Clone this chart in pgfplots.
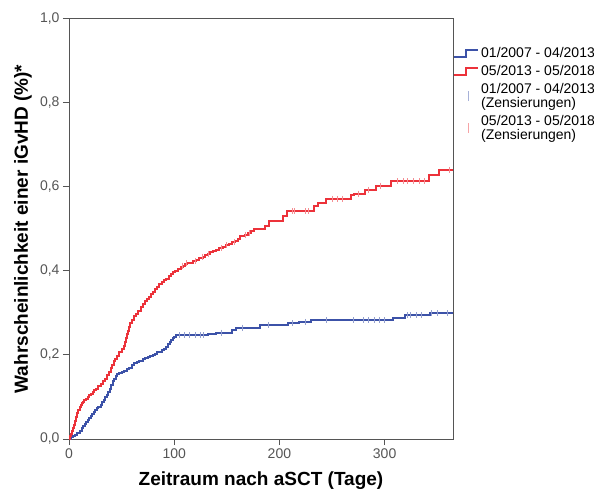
\documentclass[border=0pt]{standalone}
\usepackage{pgfplots}
\pgfplotsset{compat=1.18}
\usepackage{fontspec}
\setmainfont{Liberation Sans}

\definecolor{kmblue}{RGB}{60,82,168}
\definecolor{kmred}{RGB}{236,50,58}
\definecolor{axisgray}{RGB}{85,85,85}

% legend symbols: step line and censoring tick
\pgfplotsset{
  steplegend/.style={legend image code/.code={%
    \draw[#1, line width=2bp] (0bp,-3.5bp) -- (12bp,-3.5bp) -- (12bp,3.5bp) -- (24bp,3.5bp);}},
  censlegend/.style={legend image code/.code={%
    \draw[#1, line width=1.2bp] (14bp,-5bp) -- (14bp,5bp);}},
}

% Kaplan-Meier type step curves (days, cumulative probability)
\pgfplotstableread{
day  p
0    0
2    0.004
4    0.007
6    0.010
8    0.014
10   0.019
12   0.025
13   0.030
15   0.035
16   0.040
18   0.045
19   0.050
21   0.055
22   0.060
24   0.065
25   0.069
27   0.073
28   0.077
30   0.081
31   0.087
33   0.093
34   0.099
36   0.105
37   0.112
39   0.120
40   0.129
42   0.138
43   0.144
45   0.150
46   0.154
48   0.157
50   0.160
52   0.162
55   0.166
57   0.170
60   0.176
62   0.180
65   0.183
67   0.186
70   0.190
72   0.193
75   0.196
77   0.198
80   0.201
82   0.203
84   0.206
86   0.208
88   0.212
90   0.215
92   0.220
94   0.225
96   0.230
97   0.235
99   0.240
100  0.243
102  0.247
132  0.251
140  0.253
155  0.259
159  0.265
182  0.271
208  0.275
219  0.279
230  0.283
308  0.289
319  0.295
343  0.299
365  0.299
}\earlytab

\pgfplotstableread{
day  p
0    0
1    0.006
2    0.012
3    0.018
4    0.026
5    0.034
6    0.042
7    0.052
8    0.062
9    0.070
10   0.076
11   0.080
12   0.085
13   0.088
14   0.092
16   0.096
18   0.100
19   0.104
21   0.108
23   0.113
24   0.117
26   0.120
28   0.125
30   0.131
32   0.138
34   0.144
36   0.152
38   0.160
40   0.170
41   0.177
43   0.185
44   0.191
46   0.198
48   0.206
50   0.215
52   0.222
53   0.230
54   0.240
55   0.250
56   0.258
57   0.266
58   0.275
60   0.283
62   0.292
64   0.298
66   0.305
68   0.314
70   0.322
72   0.328
74   0.333
76   0.339
78   0.345
80   0.351
82   0.356
84   0.362
86   0.368
88   0.373
90   0.378
92   0.382
95   0.388
97   0.393
99   0.398
101  0.401
104  0.405
106  0.409
108  0.413
110  0.416
112  0.418
115  0.420
118  0.423
121  0.426
124  0.430
127  0.434
129  0.438
132  0.441
134  0.445
137  0.447
140  0.450
143  0.454
146  0.457
149  0.461
152  0.465
155  0.468
158  0.472
161  0.477
163  0.483
167  0.486
170  0.490
173  0.495
176  0.500
186  0.508
190  0.518
203  0.532
207  0.542
233  0.555
237  0.562
244  0.572
268  0.580
271  0.584
281  0.593
292  0.603
306  0.614
342  0.628
352  0.641
365  0.641
}\latetab

% censored observations
\pgfplotstableread{
day  p
105  0.247
110  0.247
115  0.247
120  0.247
125  0.247
128  0.247
145  0.253
165  0.265
190  0.271
212  0.275
225  0.279
245  0.283
270  0.283
280  0.283
285  0.283
290  0.283
295  0.283
300  0.283
322  0.295
325  0.295
330  0.295
335  0.295
345  0.299
350  0.299
360  0.299
}\earlycens

\pgfplotstableread{
day  p
108  0.413
112  0.418
120  0.423
127  0.434
133  0.441
145  0.454
150  0.461
157  0.468
168  0.486
172  0.490
212  0.542
214  0.542
225  0.542
228  0.542
250  0.572
255  0.572
260  0.572
275  0.584
285  0.593
296  0.603
312  0.614
318  0.614
322  0.614
327  0.614
333  0.614
338  0.614
362  0.641
}\latecens

\begin{document}
\begin{tikzpicture}[x=1bp,y=1bp]
\begin{axis}[
  at={(69bp,51bp)}, anchor=south west,
  scale only axis, width=384bp, height=420bp,
  xmin=0, xmax=365, ymin=0, ymax=1,
  xtick={0,100,200,300},
  ytick={0,0.2,0.4,0.6,0.8,1},
  tick pos=left,
  tick align=outside,
  major tick length=6bp,
  axis line style={axisgray, line width=1bp},
  tick style={axisgray, line width=1bp},
  /pgf/number format/assume math mode=true,
  ticklabel style={font=\fontsize{14bp}{16bp}\selectfont, text=axisgray},
  yticklabel style={/pgf/number format/.cd, fixed, fixed zerofill, precision=1, use comma},
  xlabel={\textbf{Zeitraum nach aSCT (Tage)}},
  ylabel={\textbf{Wahrscheinlichkeit einer iGvHD (\%)*}},
  xlabel style={font=\fontsize{19bp}{21bp}\selectfont, at={(axis description cs:0.5,-0.1107)}, anchor=base},
  ylabel style={font=\fontsize{19bp}{21bp}\selectfont, at={(axis description cs:-0.12,0.5)}, anchor=center},
  legend style={draw=none, fill=none, at={(1,1)}, anchor=north west,
    yshift=-26bp, inner sep=0pt,
    font=\fontsize{14bp}{13.7bp}\selectfont,
    cells={align=left, anchor=west}, row sep=2.5bp},
  legend cell align=left,
  clip=false,
]
\addplot[kmblue, line width=2bp, const plot, steplegend=kmblue]
  table[x=day, y=p] {\earlytab};
\addlegendentry{01/2007 - 04/2013}
\addplot[kmred, line width=2bp, const plot, steplegend=kmred]
  table[x=day, y=p] {\latetab};
\addlegendentry{05/2013 - 05/2018}
\addplot[only marks, mark=|, mark size=3bp, mark options={kmblue!55, line width=1bp},
  censlegend=kmblue!45]
  table[x=day, y=p] {\earlycens};
\addlegendentry{01/2007 - 04/2013\\(Zensierungen)}
\addplot[only marks, mark=|, mark size=3bp, mark options={kmred!55, line width=1bp},
  censlegend=kmred!45]
  table[x=day, y=p] {\latecens};
\addlegendentry{05/2013 - 05/2018\\(Zensierungen)}
\end{axis}
\pgfresetboundingbox
\path[use as bounding box] (0,0) rectangle (594bp,490bp);
\end{tikzpicture}
\end{document}
